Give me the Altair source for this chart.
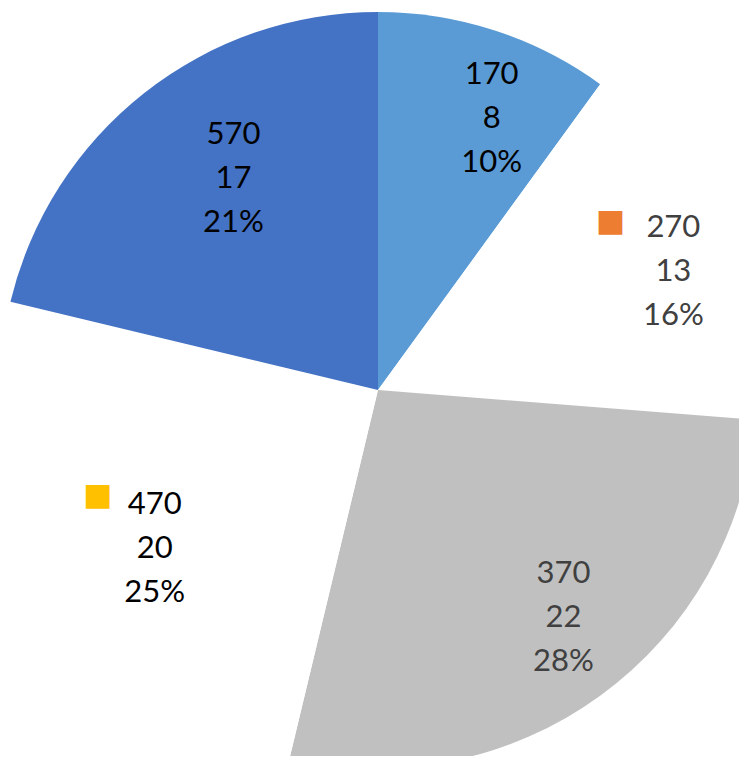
import math
import altair as alt
import pandas as pd

categories = ["170", "270", "370", "470", "570"]
counts = [8, 13, 22, 20, 17]
percents = ["10%", "16%", "28%", "25%", "21%"]
slice_colors = ["#5B9BD5", "#FFFFFF", "#C0C0C0", "#FFFFFF", "#4472C4"]
marker_colors = ["#5B9BD5", "#ED7D31", "#A5A5A5", "#FFC000", "#4472C4"]

df = pd.DataFrame({"cat": categories, "count": counts, "pct": percents,
                   "idx": list(range(len(categories)))})
df["label"] = [f"{c}\n{n}\n{p}" for c, n, p in zip(categories, counts, percents)]
df["marker"] = marker_colors

total = sum(counts)
theta_scale = alt.Scale(domain=[0, total], range=[0, 2 * math.pi])
CX, CY, R = 370, 382, 378

base = alt.Chart(df)

pie = base.mark_arc(radius=R).encode(
    theta=alt.Theta("count:Q", stack=True, scale=theta_scale),
    color=alt.Color("cat:N", scale=alt.Scale(domain=categories, range=slice_colors), legend=None),
    order=alt.Order("idx:Q"),
    x=alt.value(CX), y=alt.value(CY),
)

mid = (base.transform_window(cum="sum(count)", sort=[{"field": "idx"}], frame=[None, 0])
       .transform_calculate(mid="datum.cum - datum.count / 2"))

# per-label offsets (dx, dy, color)
label_style = {
    0: (24, -39, "#000000"),
    1: (32, -41, "#404040"),
    2: (15, -51, "#404040"),
    3: (24, -37, "#000000"),
    4: (35, -27, "#000000"),
}
layers = [pie]
for i, (dx, dy, col) in label_style.items():
    layers.append(
        mid.transform_filter(f"datum.idx == {i}").mark_text(
            radius=290, dx=dx, dy=dy, fontSize=31, lineHeight=44, font="Lato",
            color=col, lineBreak="\n", align="center", baseline="middle",
        ).encode(
            theta=alt.Theta("mid:Q", scale=theta_scale),
            text="label:N",
            x=alt.value(CX), y=alt.value(CY),
        )
    )

marker_off = {1: (-31, -47), 3: (-33, -46)}
for i, (dx, dy) in marker_off.items():
    layers.append(
        mid.transform_filter(f"datum.idx == {i}").transform_calculate(sq="'■'").mark_text(
            radius=290, dx=dx, dy=dy, fontSize=31, font="DejaVu Sans",
            align="center", baseline="middle",
        ).encode(
            theta=alt.Theta("mid:Q", scale=theta_scale),
            text="sq:N",
            color=alt.Color("marker:N", scale=None),
            x=alt.value(CX), y=alt.value(CY),
        )
    )

chart = alt.layer(*layers).properties(
    width=731, height=748, padding=0,
    autosize=alt.AutoSizeParams(type="none"),
    background="white",
).configure_view(stroke=None)

chart.save("out.html", embed_options={"renderer": "svg", "actions": False})
